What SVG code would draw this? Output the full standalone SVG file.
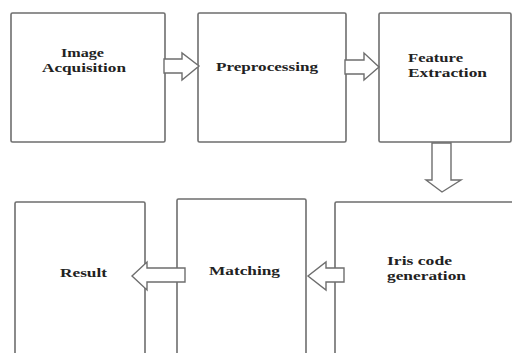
<svg xmlns="http://www.w3.org/2000/svg" width="512" height="353" viewBox="0 0 512 353">
<style>
.box{fill:#fff;stroke:#6e6e6e;stroke-width:1.6}
.arr{fill:#fff;stroke:#6e6e6e;stroke-width:1.4;stroke-linejoin:miter}
.t{font-family:"Liberation Serif","Times New Roman",serif;font-weight:bold;font-size:13px;fill:#222}
</style>
<rect width="512" height="353" fill="#fff"/>
<g id="image-acquisition">
<rect class="box" x="11" y="13" width="154" height="129" rx="1.5"/>
<text class="t" x="61" y="57" textLength="43" lengthAdjust="spacingAndGlyphs">Image</text>
<text class="t" x="42" y="72" textLength="84" lengthAdjust="spacingAndGlyphs">Acquisition</text>
</g>
<g id="preprocessing">
<rect class="box" x="198" y="13" width="148" height="129" rx="1.5"/>
<text class="t" x="216" y="71" textLength="102" lengthAdjust="spacingAndGlyphs">Preprocessing</text>
</g>
<g id="feature-extraction">
<rect class="box" x="379" y="13" width="132" height="129" rx="1.5"/>
<text class="t" x="408" y="62" textLength="55" lengthAdjust="spacingAndGlyphs">Feature</text>
<text class="t" x="408" y="77" textLength="79" lengthAdjust="spacingAndGlyphs">Extraction</text>
</g>
<g id="result">
<rect class="box" x="15" y="202" width="130" height="170" rx="1.5"/>
<text class="t" x="60" y="277" textLength="47" lengthAdjust="spacingAndGlyphs">Result</text>
</g>
<g id="matching">
<rect class="box" x="177" y="199" width="129" height="170" rx="1.5"/>
<text class="t" x="209" y="275" textLength="71" lengthAdjust="spacingAndGlyphs">Matching</text>
</g>
<g id="iris-code-generation">
<rect class="box" x="335" y="202" width="190" height="170" rx="1.5"/>
<text class="t" x="387" y="265" textLength="65" lengthAdjust="spacingAndGlyphs">Iris code</text>
<text class="t" x="387" y="280" textLength="79" lengthAdjust="spacingAndGlyphs">generation</text>
</g>
<g id="connectors">
<polygon class="arr" points="164,59 182,59 182,53 199,66 182,80 182,73 164,73"/>
<polygon class="arr" points="345,60 364,60 364,53 379,67 364,80 364,74 345,74"/>
<polygon class="arr" points="432,143 451,143 451,180 461,180 442,192 426,180 432,180"/>
<polygon class="arr" points="185,268 147,268 147,262 132,276 147,290 147,282 185,282"/>
<polygon class="arr" points="344,268 326,268 326,262 308,276 326,290 326,282 344,282"/>
</g>
</svg>
